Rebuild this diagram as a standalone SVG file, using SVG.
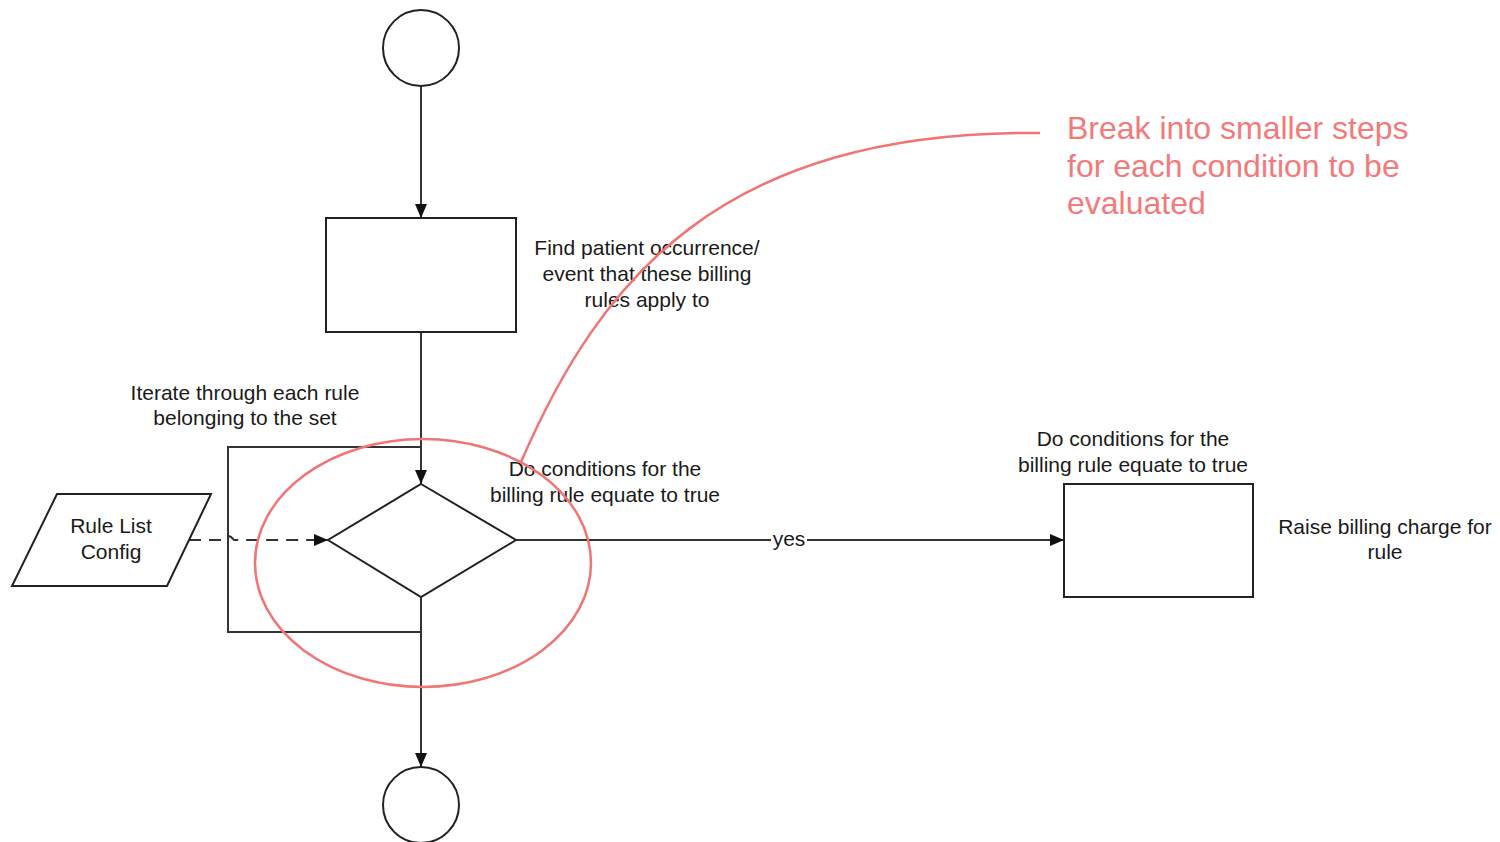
<svg xmlns="http://www.w3.org/2000/svg" width="1500" height="842" viewBox="0 0 1500 842">
  <style>
    .shape { fill: #ffffff; stroke: #222222; stroke-width: 2; }
    .edge { fill: none; stroke: #333333; stroke-width: 2; }
    .dash { stroke-dasharray: 12 8; }
    .lbl { font-family: "Liberation Sans", Arial, sans-serif; font-size: 21px; fill: #1a1a1a; text-anchor: middle; }
    .note { font-family: "Liberation Sans", Arial, sans-serif; font-size: 32px; fill: #f47a7a; }
    .mark { fill: none; stroke: #f27474; stroke-width: 2.5; }
  </style>
  <defs>
    <marker id="arrow" viewBox="0 0 14 12" refX="14" refY="6" markerWidth="14" markerHeight="12" markerUnits="userSpaceOnUse" orient="auto">
      <path d="M0,0 L14,6 L0,12 Z" fill="#111111"/>
    </marker>
  </defs>
  <rect width="1500" height="842" fill="#ffffff"/>

  <!-- loop frame around the decision -->
  <g id="loop">
    <path class="edge" d="M421,447 L228,447 L228,632 L421,632"/>
    <text class="lbl" x="245" y="400">Iterate through each rule</text>
    <text class="lbl" x="245" y="425">belonging to the set</text>
  </g>

  <g id="connectors">
    <path class="edge" d="M421,86 L421,218" marker-end="url(#arrow)"/>
    <path class="edge" d="M421,332 L421,484" marker-end="url(#arrow)"/>
    <path class="edge" d="M421,597 L421,767" marker-end="url(#arrow)"/>
    <path class="edge" d="M516,540 L1064,540" marker-end="url(#arrow)"/>
    <path class="edge dash" d="M189,540 L222,540 Q228,532 234,540 L328,540" marker-end="url(#arrow)"/>
    <rect x="771" y="528" width="36" height="22" fill="#ffffff"/>
    <text class="lbl" x="789" y="546">yes</text>
  </g>

  <g id="start">
    <circle class="shape" cx="421" cy="48" r="38"/>
  </g>

  <g id="find-occurrence">
    <rect class="shape" x="326" y="218" width="190" height="114"/>
    <text class="lbl" x="647" y="255">Find patient occurrence/</text>
    <text class="lbl" x="647" y="281">event that these billing</text>
    <text class="lbl" x="647" y="307">rules apply to</text>
  </g>

  <g id="rule-list">
    <polygon class="shape" points="57,494 211,494 167,586 12,586"/>
    <text class="lbl" x="111" y="533">Rule List</text>
    <text class="lbl" x="111" y="559">Config</text>
  </g>

  <g id="decision">
    <polygon class="shape" points="421,484 516,540 421,597 328,540"/>
    <text class="lbl" x="605" y="476">Do conditions for the</text>
    <text class="lbl" x="605" y="502">billing rule equate to true</text>
  </g>

  <g id="raise-charge">
    <rect class="shape" x="1064" y="484" width="189" height="113"/>
    <text class="lbl" x="1133" y="446">Do conditions for the</text>
    <text class="lbl" x="1133" y="472">billing rule equate to true</text>
    <text class="lbl" x="1385" y="534">Raise billing charge for</text>
    <text class="lbl" x="1385" y="559">rule</text>
  </g>

  <g id="end">
    <circle class="shape" cx="421" cy="805" r="38"/>
  </g>

  <!-- review annotation -->
  <g id="annotation">
    <ellipse class="mark" cx="423" cy="563" rx="168" ry="124"/>
    <path class="mark" d="M521,462 C600,280 720,130 1040,133"/>
    <text class="note" x="1067" y="139">Break into smaller steps</text>
    <text class="note" x="1067" y="177">for each condition to be</text>
    <text class="note" x="1067" y="214">evaluated</text>
  </g>
</svg>
